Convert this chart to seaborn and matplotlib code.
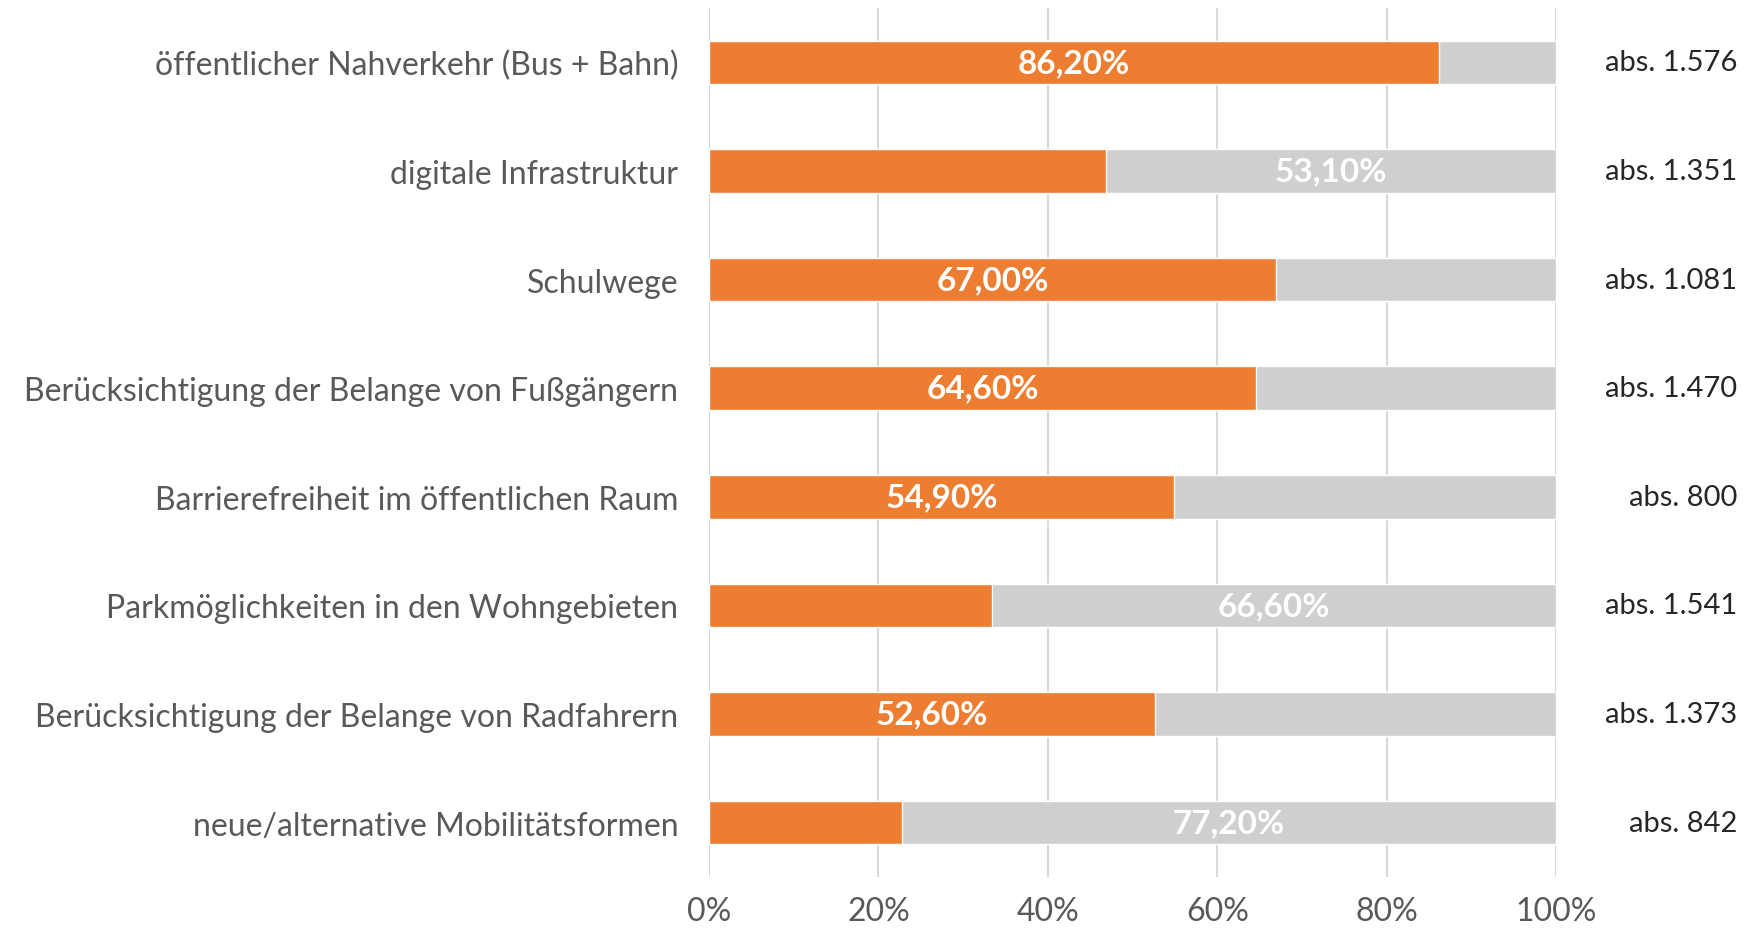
import matplotlib
matplotlib.use("Agg")
import matplotlib.pyplot as plt
import matplotlib.transforms as mtrans
import seaborn as sns
import pandas as pd

categories = [
    "öffentlicher Nahverkehr (Bus + Bahn)",
    "digitale Infrastruktur",
    "Schulwege",
    "Berücksichtigung der Belange von Fußgängern",
    "Barrierefreiheit im öffentlichen Raum",
    "Parkmöglichkeiten in den Wohngebieten",
    "Berücksichtigung der Belange von Radfahrern",
    "neue/alternative Mobilitätsformen",
]
share_yes = [86.2, 46.9, 67.0, 64.6, 54.9, 33.4, 52.6, 22.8]
share_no = [13.8, 53.1, 33.0, 35.4, 45.1, 66.6, 47.4, 77.2]
abs_labels = ["abs. 1.576", "abs. 1.351", "abs. 1.081", "abs. 1.470",
              "abs. 800", "abs. 1.541", "abs. 1.373", "abs. 842"]
x_ticks = [0, 20, 40, 60, 80, 100]

ORANGE = "#ED7D31"
GREY = "#D0CECE"
TEXT = "#595959"

sns.set_theme(style="white")
plt.rcParams["font.family"] = ["Lato", "DejaVu Sans"]

df = pd.DataFrame({"cat": categories, "yes": share_yes, "no": share_no})
df["total"] = df["yes"] + df["no"]

fig = plt.figure(figsize=(17.43, 9.29), dpi=100)
ax = fig.add_axes([709 / 1743, 1 - 878 / 929, (1556 - 709) / 1743, (878 - 9) / 929])

# grey remainder behind, orange share in front
sns.barplot(data=df, y="cat", x="total", color=GREY, saturation=1, width=0.40,
            orient="h", ax=ax, zorder=2)
sns.barplot(data=df, y="cat", x="yes", color=ORANGE, saturation=1, width=0.40,
            orient="h", ax=ax, zorder=3)

ax.set_xlim(0, 100)
ax.set_ylim(len(categories) - 0.5, -0.5)
ax.set_xticks(x_ticks)
ax.set_xticklabels([f"{t}%" for t in x_ticks], fontsize=23, color=TEXT)
ax.tick_params(axis="x", length=0, pad=14)
ax.tick_params(axis="y", length=0, pad=22)
for lbl in ax.get_yticklabels():
    lbl.set_fontsize(23)
    lbl.set_color(TEXT)
ax.set_xlabel("")
ax.set_ylabel("")
ax.grid(axis="x", color="#D9D9D9", linewidth=1.5, zorder=0)
ax.grid(axis="y", visible=False)
for s in ax.spines.values():
    s.set_visible(False)

abs_tr = mtrans.blended_transform_factory(fig.transFigure, ax.transData)
for i, (y, n, a) in enumerate(zip(share_yes, share_no, abs_labels)):
    if y >= n:
        xpos, val = y / 2, y
    else:
        xpos, val = y + n / 2, n
    ax.text(xpos, i, f"{val:.2f}%".replace(".", ","), ha="center", va="center",
            color="white", fontsize=24, fontweight="bold", zorder=5)
    ax.text(1737 / 1743, i, a, transform=abs_tr, ha="right",
            va="center", fontsize=21, color="#262626")

fig.savefig("out.png", dpi=100)
